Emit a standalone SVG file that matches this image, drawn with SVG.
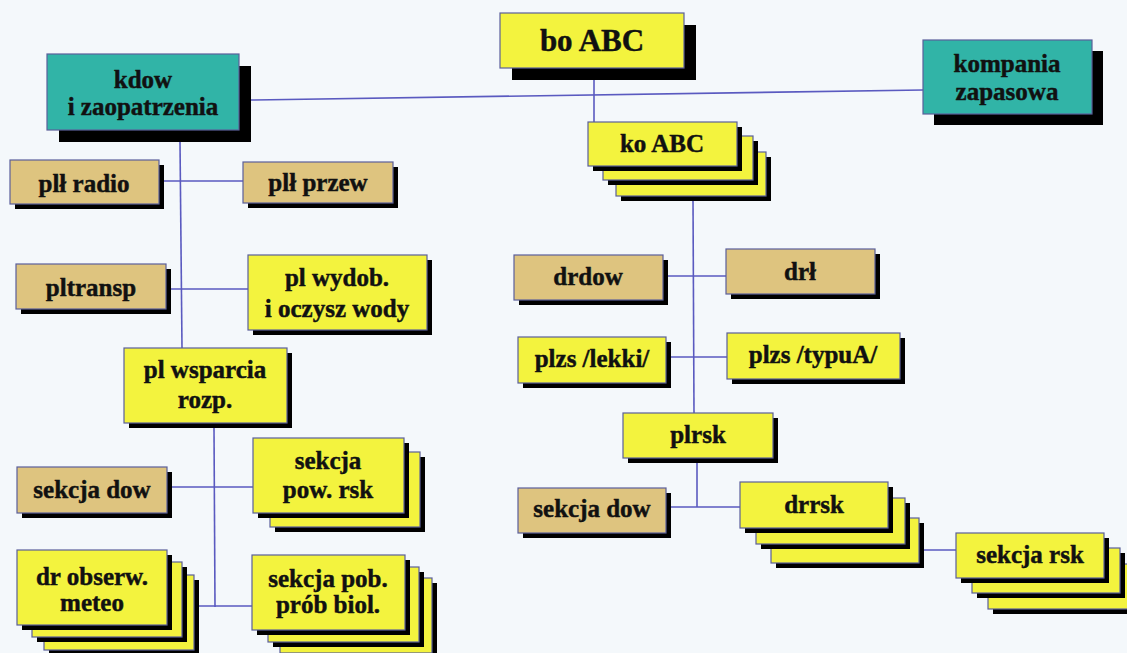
<svg xmlns="http://www.w3.org/2000/svg" width="1127" height="653" viewBox="0 0 1127 653">
<style>
.bg{fill:#f4f8fb}
.sh{fill:#000}
.y{fill:#f3f33e;stroke:#5a5f9a;stroke-width:1.2}
.t{fill:#dec47f;stroke:#5a5f9a;stroke-width:1.2}
.g{fill:#31b4a7;stroke:#5a5f9a;stroke-width:1.2}
.c{fill:none;stroke:#5a5ac0;stroke-width:1.6}
text{font-family:"Liberation Serif","Times New Roman",serif;font-weight:bold;font-size:25px;fill:#111;stroke:#111;stroke-width:0.45;text-anchor:middle}
.big{font-size:31px}
</style>
<rect class="bg" x="0" y="0" width="1127" height="653"/>

<g id="connectors">
<line class="c" x1="251" y1="100" x2="923" y2="90"/>
<line class="c" x1="594" y1="80" x2="594" y2="122"/>
<line class="c" x1="180" y1="142" x2="182" y2="348"/>
<line class="c" x1="164" y1="181" x2="243" y2="181"/>
<line class="c" x1="170" y1="289" x2="248" y2="289"/>
<line class="c" x1="214" y1="428" x2="215" y2="607"/>
<line class="c" x1="171" y1="487" x2="253" y2="487"/>
<line class="c" x1="194" y1="606" x2="252" y2="606"/>
<line class="c" x1="693" y1="198" x2="694" y2="413"/>
<line class="c" x1="667" y1="276" x2="726" y2="276"/>
<line class="c" x1="670" y1="357" x2="727" y2="357"/>
<line class="c" x1="697" y1="462" x2="697" y2="507"/>
<line class="c" x1="670" y1="507" x2="740" y2="507"/>
<line class="c" x1="922" y1="550" x2="956" y2="550"/>
</g>

<g id="n-bo-abc">
<rect class="sh" x="512" y="25" width="184" height="55"/>
<rect class="y" x="500" y="13" width="184" height="55"/>
<text class="big" x="592" y="51">bo ABC</text>
</g>

<g id="n-kdow">
<rect class="sh" x="59" y="66" width="192" height="76"/>
<rect class="g" x="47" y="54" width="192" height="76"/>
<text x="143" y="88">kdow</text>
<text x="143" y="115">i zaopatrzenia</text>
</g>

<g id="n-kompania">
<rect class="sh" x="934" y="51" width="169" height="74"/>
<rect class="g" x="923" y="40" width="169" height="74"/>
<text x="1007" y="72">kompania</text>
<text x="1007" y="100">zapasowa</text>
</g>

<g id="n-ko-abc">
<rect class="sh" x="621" y="157" width="150" height="44"/>
<rect class="y" x="616" y="152" width="150" height="44"/>
<rect class="sh" x="608" y="141" width="150" height="44"/>
<rect class="y" x="603" y="136" width="150" height="44"/>
<rect class="sh" x="593" y="127" width="149" height="44"/>
<rect class="y" x="588" y="122" width="149" height="44"/>
<text x="662" y="152">ko ABC</text>
</g>

<g id="n-pl-radio">
<rect class="sh" x="15" y="165" width="149" height="44"/>
<rect class="t" x="10" y="160" width="149" height="44"/>
<text x="84" y="192">plł radio</text>
</g>

<g id="n-pl-przew">
<rect class="sh" x="248" y="167" width="150" height="41"/>
<rect class="t" x="243" y="162" width="150" height="41"/>
<text x="318" y="191">plł przew</text>
</g>

<g id="n-pltransp">
<rect class="sh" x="21" y="269" width="150" height="45"/>
<rect class="t" x="16" y="264" width="150" height="45"/>
<text x="91" y="296">pltransp</text>
</g>

<g id="n-pl-wydob">
<rect class="sh" x="253" y="260" width="179" height="75"/>
<rect class="y" x="248" y="255" width="179" height="75"/>
<text x="337" y="286">pl wydob.</text>
<text x="337" y="317">i oczysz wody</text>
</g>

<g id="n-pl-wsparcia">
<rect class="sh" x="129" y="353" width="163" height="75"/>
<rect class="y" x="124" y="348" width="163" height="75"/>
<text x="205" y="378">pl wsparcia</text>
<text x="205" y="408">rozp.</text>
</g>

<g id="n-sekcja-dow-l">
<rect class="sh" x="22" y="472" width="150" height="46"/>
<rect class="t" x="17" y="467" width="150" height="46"/>
<text x="92" y="498">sekcja dow</text>
</g>

<g id="n-sekcja-pow-rsk">
<rect class="sh" x="275" y="457" width="150" height="75"/>
<rect class="y" x="270" y="452" width="150" height="75"/>
<rect class="sh" x="258" y="443" width="151" height="75"/>
<rect class="y" x="253" y="438" width="151" height="75"/>
<text x="328" y="469">sekcja</text>
<text x="328" y="498">pow. rsk</text>
</g>

<g id="n-dr-obserw">
<rect class="sh" x="49" y="580" width="150" height="75"/>
<rect class="y" x="44" y="575" width="150" height="75"/>
<rect class="sh" x="37" y="567" width="150" height="75"/>
<rect class="y" x="32" y="562" width="150" height="75"/>
<rect class="sh" x="22" y="555" width="150" height="75"/>
<rect class="y" x="17" y="550" width="150" height="75"/>
<text x="92" y="585">dr obserw.</text>
<text x="92" y="611">meteo</text>
</g>

<g id="n-sekcja-pob">
<rect class="sh" x="285" y="583" width="152" height="75"/>
<rect class="y" x="280" y="578" width="152" height="75"/>
<rect class="sh" x="273" y="572" width="151" height="75"/>
<rect class="y" x="268" y="567" width="151" height="75"/>
<rect class="sh" x="257" y="560" width="153" height="75"/>
<rect class="y" x="252" y="555" width="153" height="75"/>
<text x="328" y="587">sekcja pob.</text>
<text x="328" y="613">prób biol.</text>
</g>

<g id="n-drdow">
<rect class="sh" x="519" y="260" width="149" height="45"/>
<rect class="t" x="514" y="255" width="149" height="45"/>
<text x="588" y="285">drdow</text>
</g>

<g id="n-drl">
<rect class="sh" x="731" y="254" width="149" height="45"/>
<rect class="t" x="726" y="249" width="149" height="45"/>
<text x="800" y="280">drł</text>
</g>

<g id="n-plzs-lekki">
<rect class="sh" x="523" y="342" width="148" height="46"/>
<rect class="y" x="518" y="337" width="148" height="46"/>
<text x="592" y="367">plzs /lekki/</text>
</g>

<g id="n-plzs-typua">
<rect class="sh" x="732" y="338" width="173" height="46"/>
<rect class="y" x="727" y="333" width="173" height="46"/>
<text x="813" y="363">plzs /typuA/</text>
</g>

<g id="n-plrsk">
<rect class="sh" x="628" y="418" width="150" height="45"/>
<rect class="y" x="623" y="413" width="150" height="45"/>
<text x="698" y="443">plrsk</text>
</g>

<g id="n-sekcja-dow-r">
<rect class="sh" x="523" y="493" width="148" height="45"/>
<rect class="t" x="518" y="488" width="148" height="45"/>
<text x="592" y="517">sekcja dow</text>
</g>

<g id="n-drrsk">
<rect class="sh" x="776" y="523" width="148" height="45"/>
<rect class="y" x="771" y="518" width="148" height="45"/>
<rect class="sh" x="761" y="503" width="149" height="46"/>
<rect class="y" x="756" y="498" width="149" height="46"/>
<rect class="sh" x="745" y="487" width="148" height="46"/>
<rect class="y" x="740" y="482" width="148" height="46"/>
<text x="814" y="513">drrsk</text>
</g>

<g id="n-sekcja-rsk">
<rect class="sh" x="993" y="569" width="148" height="45"/>
<rect class="y" x="988" y="564" width="148" height="45"/>
<rect class="sh" x="977" y="553" width="148" height="45"/>
<rect class="y" x="972" y="548" width="148" height="45"/>
<rect class="sh" x="961" y="538" width="148" height="45"/>
<rect class="y" x="956" y="533" width="148" height="45"/>
<text x="1030" y="563">sekcja rsk</text>
</g>
</svg>
